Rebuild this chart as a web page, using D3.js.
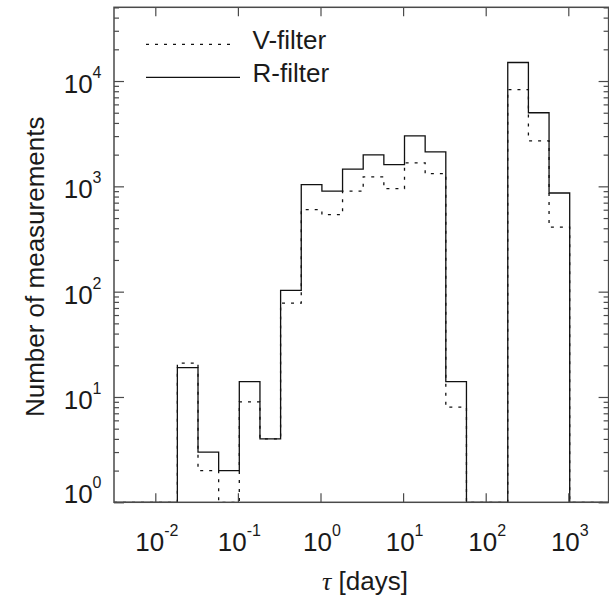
<!DOCTYPE html>
<html>
<head>
<meta charset="utf-8">
<script src="https://cdn.jsdelivr.net/npm/d3@7"></script>
<style>
  body { margin: 0; background: #fff; }
  text { font-family: "Liberation Sans", Arial, Helvetica, sans-serif; fill: #1a1a1a; }
</style>
</head>
<body>
<div id="chart"></div>
<script>
// bin edges (log10 of tau in days), one more than the counts
const binEdgesLog10 = [-1.733, -1.483, -1.233, -0.983, -0.733, -0.483, -0.233, 0.017, 0.267, 0.517,
                       0.767, 1.017, 1.267, 1.517, 1.767, 2.017, 2.267, 2.517, 2.767, 3.017];
const rFilterCounts = [19, 3, 2, 14, 4, 103, 1040, 900, 1460, 1990, 1610, 3010, 2120, 14, 0, 0, 15000, 5000, 865];
const vFilterCounts = [21, 2, 1, 9, 4, 78, 600, 540, 900, 1230, 950, 1670, 1320, 8, 0, 0, 8300, 2700, 410];
const xTickExponents = [-2, -1, 0, 1, 2, 3];
const yTickExponents = [0, 1, 2, 3, 4];
const legendLabels = ["V-filter", "R-filter"];

const width = 609, height = 596;
const axisColor = "#4a4a4a";

const svg = d3.select("#chart").append("svg")
    .attr("width", width)
    .attr("height", height);

const x = d3.scaleLog()
    .domain([Math.pow(10, -2.5), Math.pow(10, 3.5)])
    .range([114, 609.6]);

const y = d3.scaleLog()
    .domain([1, Math.pow(10, 4.7)])
    .range([502.3, 7.3])
    .clamp(true);

const [x0, x1] = x.range();
const [y0, y1] = y.range();

// step outline of a histogram, starting and ending on the bottom axis
function stepPoints(counts) {
    const first = Math.pow(10, binEdgesLog10[0]);
    const last = Math.pow(10, binEdgesLog10[binEdgesLog10.length - 1]);
    const pts = [[x.domain()[0], 1], [first, 1]];
    counts.forEach((c, i) => {
        const v = Math.max(c, 1);
        pts.push([Math.pow(10, binEdgesLog10[i]), v]);
        pts.push([Math.pow(10, binEdgesLog10[i + 1]), v]);
    });
    pts.push([last, 1]);
    pts.push([x.domain()[1], 1]);
    return pts;
}

const line = d3.line()
    .x(d => x(d[0]))
    .y(d => y(d[1]));

svg.append("path")
    .attr("d", line(stepPoints(vFilterCounts)))
    .attr("fill", "none")
    .attr("stroke", "#111")
    .attr("stroke-width", 1.3)
    .attr("stroke-dasharray", "3,6");

svg.append("path")
    .attr("d", line(stepPoints(rFilterCounts)))
    .attr("fill", "none")
    .attr("stroke", "#111")
    .attr("stroke-width", 1.3);

// ticks
const yMajor = yTickExponents.map(e => Math.pow(10, e));
const yMinor = [];
yTickExponents.forEach(e => {
    for (let m = 2; m <= 9; m++) {
        const v = m * Math.pow(10, e);
        if (v < y.domain()[1]) yMinor.push(v);
    }
});
const xMajor = xTickExponents.map(e => Math.pow(10, e));

function styleAxis(g) {
    g.select(".domain").remove();
    g.selectAll("line").attr("stroke", axisColor).attr("stroke-width", 1.2);
}

svg.append("g").attr("transform", `translate(${x0},0)`)
    .call(d3.axisLeft(y).tickValues(yMajor).tickSize(-10).tickFormat(""))
    .call(styleAxis);
svg.append("g").attr("transform", `translate(${x0},0)`)
    .call(d3.axisLeft(y).tickValues(yMinor).tickSize(-5).tickFormat(""))
    .call(styleAxis);
svg.append("g").attr("transform", `translate(${x1 - 1},0)`)
    .call(d3.axisRight(y).tickValues(yMajor).tickSize(-10).tickFormat(""))
    .call(styleAxis);
svg.append("g").attr("transform", `translate(${x1 - 1},0)`)
    .call(d3.axisRight(y).tickValues(yMinor).tickSize(-5).tickFormat(""))
    .call(styleAxis);
svg.append("g").attr("transform", `translate(0,${y0})`)
    .call(d3.axisBottom(x).tickValues(xMajor).tickSize(-9).tickFormat(""))
    .call(styleAxis);
svg.append("g").attr("transform", `translate(0,${y1})`)
    .call(d3.axisTop(x).tickValues(xMajor).tickSize(-9).tickFormat(""))
    .call(styleAxis);

// frame
svg.append("rect")
    .attr("x", x0).attr("y", y1)
    .attr("width", x1 - 1 - x0).attr("height", y0 - y1)
    .attr("fill", "none")
    .attr("stroke", axisColor)
    .attr("stroke-width", 1.5);

// tick labels, 10 with a raised exponent
function powerLabel(sel, e) {
    sel.append("tspan").text("10");
    sel.append("tspan").attr("dy", -15).attr("font-size", 16).text(e);
}

xTickExponents.forEach(e => {
    svg.append("text")
        .attr("x", x(Math.pow(10, e)) + 1.5)
        .attr("y", 550.7)
        .attr("text-anchor", "middle")
        .attr("font-size", 26)
        .call(powerLabel, e);
});

yTickExponents.forEach(e => {
    svg.append("text")
        .attr("x", 101.5)
        .attr("y", Math.min(y(Math.pow(10, e)) + 12, y0 + 1))
        .attr("text-anchor", "end")
        .attr("font-size", 26)
        .call(powerLabel, e);
});

// axis titles
const xTitle = svg.append("text")
    .attr("x", 365)
    .attr("y", 590)
    .attr("text-anchor", "middle")
    .attr("font-size", 26);
xTitle.append("tspan")
    .attr("font-family", "'Liberation Serif', 'DejaVu Serif', serif")
    .attr("font-style", "italic")
    .text("τ");
xTitle.append("tspan").text(" [days]");

svg.append("text")
    .attr("transform", `translate(44,${(y0 + y1) / 2 + 12}) rotate(-90)`)
    .attr("text-anchor", "middle")
    .attr("font-size", 26)
    .text("Number of measurements");

// legend
const legendY = [44.3, 77.3];
legendLabels.forEach((label, i) => {
    svg.append("line")
        .attr("x1", 146).attr("x2", i === 0 ? 232 : 240)
        .attr("y1", legendY[i]).attr("y2", legendY[i])
        .attr("stroke", "#111")
        .attr("stroke-width", 1.3)
        .attr("stroke-dasharray", i === 0 ? "3,6" : null);
    svg.append("text")
        .attr("x", 252.5)
        .attr("y", legendY[i] + 5)
        .attr("font-size", 26)
        .text(label);
});
</script>
</body>
</html>
